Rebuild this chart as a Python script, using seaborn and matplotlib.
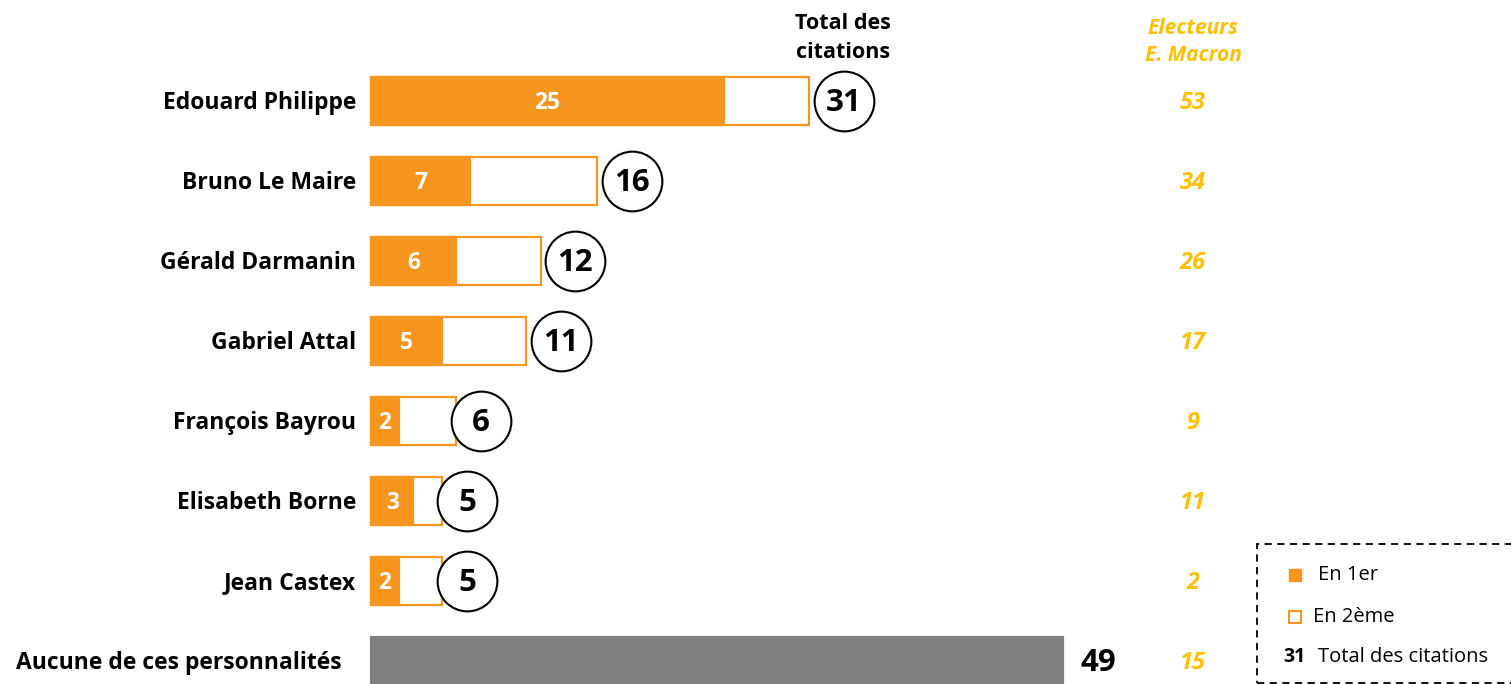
import pandas as pd
import matplotlib
matplotlib.use("Agg")
import matplotlib.pyplot as plt
import seaborn as sns
from matplotlib.patches import Rectangle

names = ["Edouard Philippe", "Bruno Le Maire", "Gérald Darmanin", "Gabriel Attal",
         "François Bayrou", "Elisabeth Borne", "Jean Castex", "Aucune de ces personnalités"]
en_1er = [25, 7, 6, 5, 2, 3, 2, None]
total = [31, 16, 12, 11, 6, 5, 5, 49]
macron = [53, 34, 26, 17, 9, 11, 2, 15]

ORANGE = "#F7961E"
GOLD = "#FFC000"
GREY = "#808080"

sns.set_theme(style="white")
plt.rcParams["font.family"] = ["Open Sans", "DejaVu Sans"]

df = pd.DataFrame({"name": names, "en1": en_1er, "total": total, "macron": macron})

fig = plt.figure(figsize=(15.11, 6.84), dpi=100)
ax = fig.add_axes([0, 0, 1, 1])

# outline bars = total, filled bars = first citation
sns.barplot(data=df, x="total", y="name", color="white", edgecolor=ORANGE,
            linewidth=1.6, width=0.6, saturation=1, ax=ax)
last = ax.patches[-1]
last.set_facecolor(GREY)
last.set_edgecolor(GREY)
sns.barplot(data=df.iloc[:-1], x="en1", y="name", color=ORANGE, edgecolor=ORANGE,
            linewidth=1.6, width=0.6, saturation=1, ax=ax)

px = 14.13  # pixels per unit
ax.set_xlim(-371 / px, (1511 - 371) / px)
ax.set_ylim((684 - 101) / 80, -101 / 80)
ax.axis("off")

n = len(df) - 1
dy = 0.025
for i, row in df.iterrows():
    if i < n:
        ax.text(-1.05, i + dy, row["name"], ha="right", va="center", fontsize=16.5,
                fontweight="bold", color="black")
        ax.text(row["en1"] / 2, i + dy, f"{int(row['en1'])}", ha="center", va="center",
                fontsize=16.5, fontweight="bold", color="white")
        lab = f"{row['total']}"
        cx = row["total"] + (1.8 if len(lab) == 1 else 2.45)
        ax.scatter([cx], [i], s=1850, facecolor="white", edgecolor="black",
                   linewidth=1.5, zorder=5)
        ax.text(cx, i + 0.03, lab, ha="center", va="center", fontsize=22.5,
                fontweight="bold", color="black", zorder=6)
    else:
        ax.text(-2.1, i + dy, row["name"], ha="right", va="center", fontsize=16.5,
                fontweight="bold", color="black")
        ax.text(row["total"] + 2.5, i + 0.03, f"{row['total']}", ha="center", va="center",
                fontsize=22.5, fontweight="bold", color="black")
    ax.text((1193 - 371) / px, i + dy, f"{row['macron']}", ha="center", va="center",
            fontsize=17, fontweight="bold", fontstyle="italic", color=GOLD)

# column headers
ax.text((843 - 371) / px, (38 - 101) / 80, "Total des\ncitations", ha="center",
        va="center", fontsize=15.5, fontweight="bold", color="black", linespacing=1.45)
ax.text((1193 - 371) / px, (42 - 101) / 80, "Electeurs\nE. Macron", ha="center",
        va="center", fontsize=15, fontweight="bold", fontstyle="italic", color=GOLD,
        linespacing=1.35)

# legend box
fig.patches.append(Rectangle((1257 / 1511, 1 / 684), 0.2, 139 / 684,
                             transform=fig.transFigure, fill=False,
                             edgecolor="black", linestyle=(0, (4, 3)), linewidth=1.3))
fig.patches.append(Rectangle((1289 / 1511, (684 - 581) / 684), 12 / 1511, 12 / 684,
                             transform=fig.transFigure, facecolor=ORANGE, edgecolor=ORANGE))
fig.patches.append(Rectangle((1289 / 1511, (684 - 623) / 684), 12 / 1511, 12 / 684,
                             transform=fig.transFigure, facecolor="white",
                             edgecolor=ORANGE, linewidth=1.5))
fig.text(1318 / 1511, (684 - 575) / 684, "En 1er", ha="left", va="center",
         fontsize=14.5, color="black")
fig.text(1313 / 1511, (684 - 617) / 684, "En 2ème", ha="left", va="center",
         fontsize=14.5, color="black")
fig.text(1283 / 1511, (684 - 657) / 684, "31", ha="left", va="center",
         fontsize=14, fontweight="bold", color="black")
fig.text(1318 / 1511, (684 - 657) / 684, "Total des citations", ha="left",
         va="center", fontsize=14.5, color="black")

fig.savefig("out.png", dpi=100)
